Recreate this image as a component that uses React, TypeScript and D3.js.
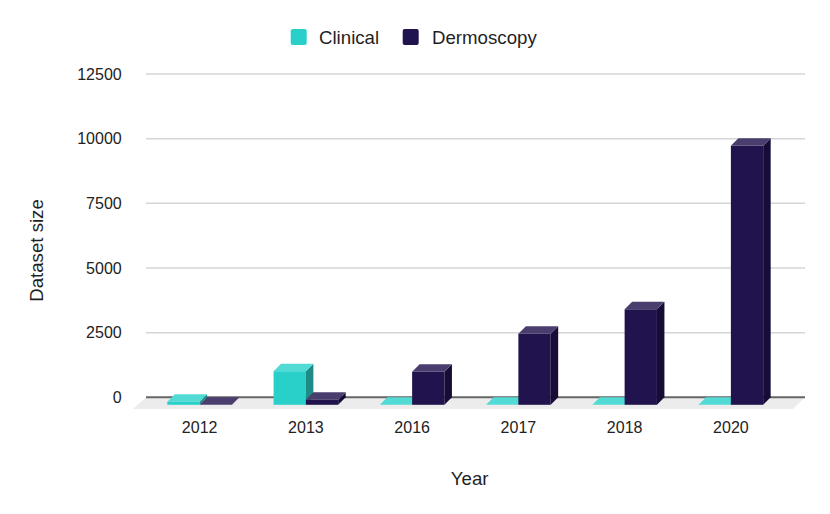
import { useMemo } from 'react';
import * as d3 from 'd3';

const years = ['2012', '2013', '2016', '2017', '2018', '2020'];
const clinical = [120, 1300, 0, 0, 0, 0];
const dermoscopy = [0, 200, 1279, 2750, 3694, 10015];
const yTicks = [0, 2500, 5000, 7500, 10000, 12500];
const seriesNames = ['Clinical', 'Dermoscopy'];

const palette = {
  Clinical: { front: '#29d0ca', top: '#52dad5', side: '#1e8b87' },
  Dermoscopy: { front: '#21134d', top: '#4a3e6e', side: '#170c36' },
};

const WIDTH = 830;
const HEIGHT = 514;
const FONT = '"Liberation Sans", Arial, Helvetica, sans-serif';

export default function App() {
  const depth = 7.5;
  const plot = { left: 146, right: 805, top: 74, zero: 397.3 };

  const y = useMemo(
    () => d3.scaleLinear().domain([0, 12500]).range([plot.zero, plot.top]),
    [],
  );
  // front-face band positions
  const x = useMemo(
    () => d3.scaleBand().domain(years).range([146.5, 784]).paddingInner(0.392).paddingOuter(0.196),
    [],
  );
  const sub = useMemo(
    () => d3.scaleBand().domain(seriesNames).range([0, x.bandwidth()]),
    [x],
  );

  const bars = years.flatMap((yr, i) =>
    seriesNames.map((s) => ({
      year: yr,
      series: s as 'Clinical' | 'Dermoscopy',
      value: s === 'Clinical' ? clinical[i] : dermoscopy[i],
    })),
  );

  return (
    <svg
      width={WIDTH}
      height={HEIGHT}
      style={{ position: 'absolute', left: 0, top: 0, background: '#fff' }}
      fontFamily={FONT}
    >
      {/* legend */}
      <g>
        <rect x={290.7} y={29} width={16} height={16} rx={2} fill={palette.Clinical.front} />
        <text x={319} y={44.3} fontSize={18.67} fill="#1f1f1f">
          Clinical
        </text>
        <rect x={402.7} y={29} width={16} height={16} rx={2} fill={palette.Dermoscopy.front} />
        <text x={432} y={44.3} fontSize={18.67} fill="#1f1f1f">
          Dermoscopy
        </text>
      </g>

      {/* floor */}
      <polygon
        points={`${plot.left},${plot.zero} ${plot.right},${plot.zero} ${plot.right - 12},${
          plot.zero + 11.7
        } ${plot.left - 13},${plot.zero + 11.7}`}
        fill="#ececec"
      />

      {/* gridlines + y labels */}
      {yTicks.map((t) => (
        <g key={t}>
          {t !== 0 && (
            <line x1={plot.left} x2={plot.right} y1={y(t)} y2={y(t)} stroke="#d6d6d6" strokeWidth={1.5} />
          )}
          <text x={121.7} y={y(t)} dy="0.36em" textAnchor="end" fontSize={16} fill="#222">
            {t}
          </text>
        </g>
      ))}
      <line x1={plot.left} x2={plot.right} y1={y(0)} y2={y(0)} stroke="#666" strokeWidth={2} />

      {/* 3d bars */}
      {bars.map((b) => {
        const c = palette[b.series];
        const x0 = (x(b.year) ?? 0) + (sub(b.series) ?? 0);
        const x1 = x0 + sub.bandwidth();
        const yt = y(b.value) + depth;
        const yb = y(0) + depth;
        return (
          <g key={b.year + b.series}>
            {b.value > 0 && <rect x={x0} y={yt} width={x1 - x0} height={yb - yt} fill={c.front} />}
            {b.value > 0 && (
              <polygon
                points={`${x1},${yt} ${x1 + depth},${yt - depth} ${x1 + depth},${yb - depth} ${x1},${yb}`}
                fill={c.side}
              />
            )}
            <polygon
              points={`${x0},${yt} ${x0 + depth},${yt - depth} ${x1 + depth},${yt - depth} ${x1},${yt}`}
              fill={c.top}
            />
          </g>
        );
      })}

      {/* x labels */}
      {years.map((yr) => (
        <text
          key={yr}
          x={(x(yr) ?? 0) + x.bandwidth() / 2}
          y={433.3}
          textAnchor="middle"
          fontSize={16}
          fill="#222"
        >
          {yr}
        </text>
      ))}

      {/* axis titles */}
      <text x={469.7} y={485} textAnchor="middle" fontSize={18.67} fill="#1f1f1f">
        Year
      </text>
      <text
        transform="translate(42.5,250.5) rotate(-90)"
        textAnchor="middle"
        fontSize={18.67}
        fill="#1f1f1f"
      >
        Dataset size
      </text>
    </svg>
  );
}
